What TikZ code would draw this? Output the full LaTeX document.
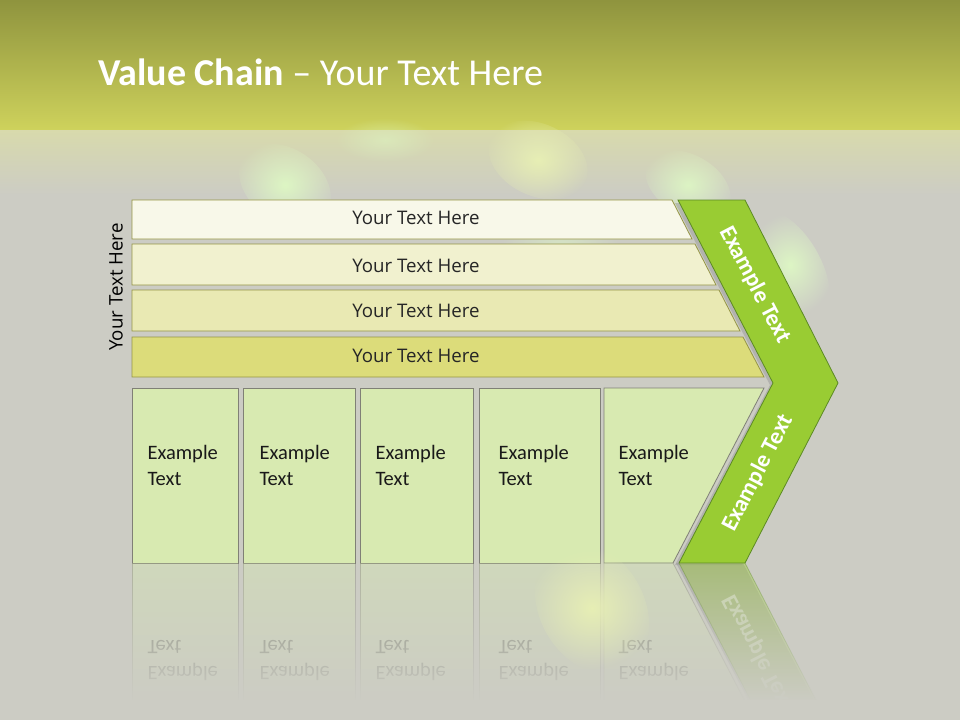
\documentclass[tikz,border=0pt]{standalone}
\usepackage{fontspec}
\setmainfont{Carlito}
\newfontfamily\boxfont{Open Sans}
\usepackage{xcolor}
\definecolor{bg_grey}{RGB}{204,204,196}
\definecolor{top_olive}{RGB}{143,148,62}
\definecolor{top_yellow}{RGB}{206,210,92}
\definecolor{haze}{RGB}{216,218,172}
\definecolor{bar_one}{RGB}{248,248,233}
\definecolor{bar_two}{RGB}{241,241,207}
\definecolor{bar_three}{RGB}{233,233,179}
\definecolor{bar_four}{RGB}{220,220,122}
\definecolor{bar_line}{RGB}{150,150,70}
\definecolor{cell_green}{RGB}{216,234,177}
\definecolor{cell_line}{RGB}{128,128,118}
\definecolor{chevron_green}{RGB}{153,204,51}
\definecolor{chevron_line}{RGB}{92,138,36}
\definecolor{blob_green}{RGB}{222,248,196}
\definecolor{blob_yellow}{RGB}{232,240,180}
\usepackage{tikz}
\usetikzlibrary{fadings}
\tikzfading[name=reflect_fade, top color=transparent!100, bottom color=transparent!0]
\tikzfading[name=soft_blob, inner color=transparent!0, outer color=transparent!100]

\tikzset{
  value_bar/.style={draw=bar_line, line width=0.8pt},
  cell/.style={draw=cell_line, fill=cell_green, line width=0.8pt},
  bar_text/.style={font=\boxfont\fontsize{18.7}{22}\selectfont, text=black!85},
  cell_text/.style={font=\fontsize{20.5}{26}\selectfont, align=left, anchor=west, text=black!90},
  arm_text/.style={font=\bfseries\fontsize{23.5}{27}\selectfont, text=white},
  blob/.style={fill=blob_green, path fading=soft_blob},
}

% lower row of activities, #1 tags the node names
\newcommand{\lowerrow}[1]{%
  \draw[cell] (132,388) rectangle (238,563);
  \draw[cell] (243,388) rectangle (355,563);
  \draw[cell] (360,388) rectangle (473,563);
  \draw[cell] (479,388) rectangle (600,563);
  \draw[cell] (604,388) -- (764,388) -- (673,563) -- (604,563) -- cycle;
  \node[cell_text] (cell1#1) at (144,465) {Example\\Text};
  \node[cell_text] (cell2#1) at (256,465) {Example\\Text};
  \node[cell_text] (cell3#1) at (372,465) {Example\\Text};
  \node[cell_text] (cell4#1) at (495,465) {Example\\Text};
  \node[cell_text] (cell5#1) at (615,465) {Example\\Text};
  \fill[black!40, opacity=0.5] (675,565) -- (742,565) -- (835,385) -- (742,203) -- (675,203) -- (770,385) -- cycle;
  \draw[chevron_line, fill=chevron_green, line width=0.8pt] (678,200) -- (745,200) -- (838,383) -- (745,563) -- (679,563) -- (773,383) -- cycle;
  \node[arm_text, rotate=62.5] (lower_arm#1) at (758,473) {Example Text};
}

\begin{document}
\begin{tikzpicture}[x=1pt, y=-1pt]
\useasboundingbox (0,0) rectangle (960,720);

% background
\fill[bg_grey] (0,0) rectangle (960,720);
\shade[top color=top_olive, bottom color=top_yellow] (0,0) rectangle (960,130);
\shade[top color=haze, bottom color=bg_grey] (0,130) rectangle (960,195);
\fill[blob, opacity=0.95, rotate around={-35:(285,185)}] (285,185) ellipse (50 and 36);
\fill[blob, fill=blob_yellow, opacity=0.95, rotate around={-25:(538,160)}] (538,160) ellipse (52 and 36);
\fill[blob, opacity=0.5] (385,140) ellipse (50 and 22);
\fill[blob, opacity=0.9, rotate around={-30:(688,185)}] (688,185) ellipse (46 and 30);
\fill[blob, opacity=0.95, rotate around={-60:(790,265)}] (790,265) ellipse (60 and 30);
\fill[blob, opacity=0.6] (560,250) ellipse (60 and 40);

\draw (98,85) node[anchor=base west, inner sep=0pt, text=white, font=\fontsize{38}{42}\selectfont] (title) {\textbf{Value Chain} -- Your Text Here};

% support activities
\draw[value_bar, fill=bar_one] (132,200) -- (672,200) -- (692,239) -- (132,239) -- cycle;
\draw[value_bar, fill=bar_two] (132,244) -- (695,244) -- (716,285) -- (132,285) -- cycle;
\draw[value_bar, fill=bar_three] (132,290) -- (719,290) -- (740,331) -- (132,331) -- cycle;
\draw[value_bar, fill=bar_four] (132,337) -- (743,337) -- (764,377) -- (132,377) -- cycle;
\node[bar_text] (bar1) at (416,218) {Your Text Here};
\node[bar_text] (bar2) at (416,266) {Your Text Here};
\node[bar_text] (bar3) at (416,311) {Your Text Here};
\node[bar_text] (bar4) at (416,356) {Your Text Here};
\node[bar_text, text=black, rotate=90] (side_label) at (116,287) {Your Text Here};

% primary activities and margin
\lowerrow{}
\node[arm_text, rotate=-62.5] (upper_arm) at (755,285) {Example Text};

% reflection
\begin{scope}
\clip (0,563) rectangle (960,700);
\begin{scope}[shift={(0,563)}, yscale=-1, shift={(0,-563)}, transform shape, opacity=0.4]
\lowerrow{r}
\end{scope}
\end{scope}
\fill[bg_grey, path fading=reflect_fade] (0,566) rectangle (960,702);
\fill[bg_grey] (0,700) rectangle (960,720);
\fill[blob, fill=blob_yellow, opacity=0.95, rotate around={-60:(592,608)}] (592,608) ellipse (70 and 52);

\end{tikzpicture}
\end{document}
